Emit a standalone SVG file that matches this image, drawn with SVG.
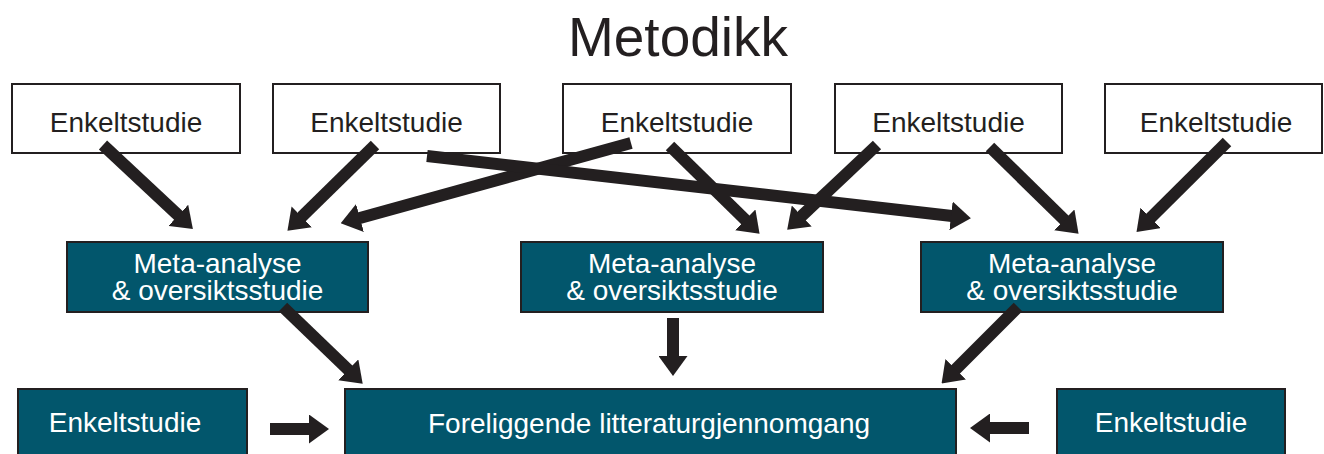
<svg xmlns="http://www.w3.org/2000/svg" width="1324" height="454" viewBox="0 0 1324 454">
<style>
.box{fill:#ffffff;stroke:#231f20;stroke-width:2}
.tbox{fill:#02566c;stroke:#231f20;stroke-width:2}
.t{font-family:"Liberation Sans",Arial,sans-serif;font-size:28px;fill:#231f20;text-anchor:middle}
.w{font-family:"Liberation Sans",Arial,sans-serif;font-size:28px;fill:#ffffff;text-anchor:middle}
.title{font-family:"Liberation Sans",Arial,sans-serif;font-size:55px;fill:#231f20;text-anchor:middle}
.c{stroke:#231f20;stroke-width:12;fill:none;marker-end:url(#ah)}
</style>
<defs>
<marker id="ah" viewBox="0 0 20 29" refX="1" refY="14.5" markerWidth="20" markerHeight="29" markerUnits="userSpaceOnUse" orient="auto">
<path d="M0,0 L20,14.5 L0,29 z" fill="#231f20"/>
</marker>
</defs>
<rect width="1324" height="454" fill="#ffffff"/>
<text class="title" x="678" y="56">Metodikk</text>
<g id="e1"><rect class="box" x="12" y="84" width="228" height="69"/><text class="t" x="126" y="132">Enkeltstudie</text></g>
<g id="e2"><rect class="box" x="273" y="84" width="227" height="69"/><text class="t" x="386.5" y="132">Enkeltstudie</text></g>
<g id="e3"><rect class="box" x="563" y="84" width="228" height="69"/><text class="t" x="677" y="132">Enkeltstudie</text></g>
<g id="e4"><rect class="box" x="835" y="84" width="227" height="69"/><text class="t" x="948.5" y="132">Enkeltstudie</text></g>
<g id="e5"><rect class="box" x="1105" y="84" width="217" height="69"/><text class="t" x="1216" y="132">Enkeltstudie</text></g>
<g id="m1"><rect class="tbox" x="67" y="242" width="301" height="70"/><text class="w" x="217.5" y="273">Meta-analyse</text><text class="w" x="217.5" y="300">&amp; oversiktsstudie</text></g>
<g id="m2"><rect class="tbox" x="521" y="242" width="302" height="70"/><text class="w" x="672" y="273">Meta-analyse</text><text class="w" x="672" y="300">&amp; oversiktsstudie</text></g>
<g id="m3"><rect class="tbox" x="921" y="242" width="302" height="70"/><text class="w" x="1072" y="273">Meta-analyse</text><text class="w" x="1072" y="300">&amp; oversiktsstudie</text></g>
<g id="b1"><rect class="tbox" x="18" y="389" width="229" height="75"/><text class="w" x="125" y="432">Enkeltstudie</text></g>
<g id="lit"><rect class="tbox" x="345" y="389" width="611" height="75"/><text class="w" x="649" y="433">Foreliggende litteraturgjennomgang</text></g>
<g id="b2"><rect class="tbox" x="1057" y="389" width="228" height="75"/><text class="w" x="1171" y="432">Enkeltstudie</text></g>
<g id="connectors">
<line class="c" x1="103" y1="145" x2="179" y2="216"/>
<line class="c" x1="375" y1="145" x2="301" y2="217.5"/>
<line class="c" x1="631" y1="143" x2="359" y2="218.3"/>
<line class="c" x1="427" y1="156" x2="952" y2="216"/>
<line class="c" x1="670" y1="146" x2="746" y2="220.5"/>
<line class="c" x1="877" y1="145" x2="801" y2="216.7"/>
<line class="c" x1="990" y1="147" x2="1065" y2="220.5"/>
<line class="c" x1="1227" y1="142" x2="1150" y2="218.5"/>
<line class="c" x1="283" y1="307" x2="349" y2="370.5"/>
<line class="c" x1="673" y1="318" x2="673" y2="357"/>
<line class="c" x1="1018" y1="307" x2="955" y2="370"/>
<line class="c" x1="270" y1="429" x2="310" y2="429"/>
<line class="c" x1="1029" y1="428" x2="989" y2="428"/>
</g>
</svg>
